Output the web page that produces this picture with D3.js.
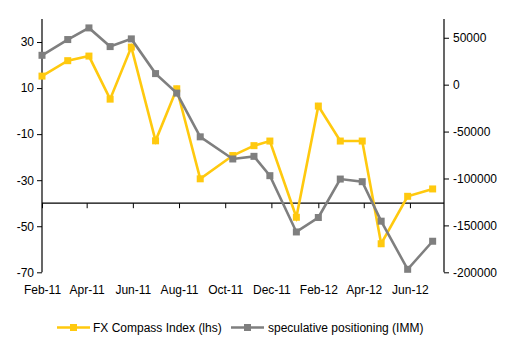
<!DOCTYPE html>
<html><head><meta charset="utf-8">
<script src="https://cdn.jsdelivr.net/npm/d3@7"></script>
<style>body{margin:0;background:#fff}svg{display:block}text{font-family:"Liberation Sans",Arial,sans-serif;font-size:12px;fill:#000}</style>
</head><body><div id="chart"></div>
<script>
const dates = ["2011-02-01","2011-03-07","2011-04-04","2011-05-02","2011-05-30","2011-07-01","2011-07-29","2011-08-29","2011-10-11","2011-11-08","2011-11-29","2012-01-03","2012-02-01","2012-03-01","2012-03-30","2012-04-24","2012-05-29","2012-07-01"];
const fxCompass = [15.2,21.9,23.9,5.2,27.8,-12.9,9.7,-29.4,-19.3,-15.0,-13.0,-46.1,2.2,-13.0,-13.0,-57.6,-37.0,-33.8];
const speculative = [31300,48100,60500,40600,48800,11800,-9000,-55600,-79200,-76400,-97000,-157000,-141600,-100600,-103400,-145500,-196800,-166900];
const xTickDates = ["2011-02-01","2011-04-01","2011-06-01","2011-08-01","2011-10-01","2011-12-01","2012-02-01","2012-04-01","2012-06-01"];
const xTickLabels = ["Feb-11","Apr-11","Jun-11","Aug-11","Oct-11","Dec-11","Feb-12","Apr-12","Jun-12"];
const leftTicks = [-70,-50,-30,-10,10,30];
const rightTicks = [-200000,-150000,-100000,-50000,0,50000];
const seriesNames = ["FX Compass Index (lhs)","speculative positioning (IMM)"];
const colors = ["#FFC90E","#7F7F7F"];

const W=508,H=348, L=42, R=444, T=19, B=272.3;
const parse = d3.timeParse("%Y-%m-%d");
const svg = d3.select("#chart").append("svg").attr("width",W).attr("height",H);

const x = d3.scaleTime().domain([parse("2011-02-01"), parse("2012-07-16")]).range([L,R]);
const yL = d3.scaleLinear().domain([-70,40]).range([B,T]);
const yR = d3.scaleLinear().domain([-200000,70000]).range([B,T]);

// left axis
const gl = svg.append("g").attr("transform",`translate(${L},0)`)
  .call(d3.axisLeft(yL).tickValues(leftTicks).tickSize(5).tickPadding(3).tickFormat(d3.format("d")));
// right axis
const gr = svg.append("g").attr("transform",`translate(${R},0)`)
  .call(d3.axisRight(yR).tickValues(rightTicks).tickSize(5).tickPadding(4).tickFormat(d=>String(d)));
[gl,gr].forEach(g=>{g.select(".domain").attr("d", g===gl?`M0,${T}V${B}`:`M0,${T}V${B}`).attr("stroke","#000").attr("stroke-width",1.2);
  g.selectAll("text").style("font-size","12px").attr("font-family",null);});
gl.selectAll(".tick text").text(d=>d<0?"-"+Math.abs(d):d);
gr.selectAll(".tick text").text(d=>d<0?"-"+Math.abs(d):d);

// x axis crossing at -40
const xAxisY = yL(-40);
const gx = svg.append("g").attr("transform",`translate(0,${xAxisY})`)
  .call(d3.axisBottom(x).tickValues(xTickDates.map(parse)).tickSize(5).tickFormat((d,i)=>xTickLabels[i]));
gx.select(".domain").attr("d",`M${L},0H${R}`).attr("stroke","#000").attr("stroke-width",1.2);
gx.selectAll(".tick text").attr("y", 294 - xAxisY - 9).attr("dy","0.71em").style("font-size","12px");

const data = dates.map((d,i)=>({date:parse(d), a:fxCompass[i], b:speculative[i]}));

function drawSeries(acc, yScale, color){
  const line = d3.line().x(d=>x(d.date)).y(d=>yScale(acc(d)));
  svg.append("path").datum(data).attr("d",line).attr("fill","none").attr("stroke",color).attr("stroke-width",2.6).attr("stroke-linejoin","miter");
  svg.append("g").selectAll("rect").data(data).join("rect")
    .attr("x",d=>x(d.date)-3.5).attr("y",d=>yScale(acc(d))-3.5).attr("width",7).attr("height",7).attr("fill",color);
}
drawSeries(d=>d.a, yL, colors[0]);
drawSeries(d=>d.b, yR, colors[1]);

// legend
const lg = svg.append("g");
const legItems = [{x:57,tx:93},{x:231,tx:268}];
legItems.forEach((it,i)=>{
  const ly = 327.5;
  lg.append("line").attr("x1",it.x).attr("x2",it.x+33).attr("y1",ly).attr("y2",ly).attr("stroke",colors[i]).attr("stroke-width",2.6);
  lg.append("rect").attr("x",it.x+16.5-3.5).attr("y",ly-3.5).attr("width",7).attr("height",7).attr("fill",colors[i]);
  lg.append("text").attr("x",it.tx).attr("y",ly+4.3).text(seriesNames[i]);
});
</script></body></html>
